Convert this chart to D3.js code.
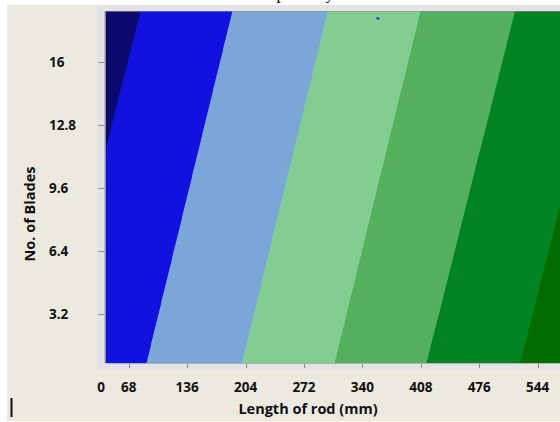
<!DOCTYPE html>
<html>
<head>
<meta charset="utf-8">
<script src="https://cdn.jsdelivr.net/npm/d3@7"></script>
<style>
  html, body { margin: 0; padding: 0; background: #ffffff; }
  svg { display: block; }
</style>
</head>
<body>
<svg id="chart" width="560" height="422"></svg>
<script>
// ---- data ----
const titleText = "Contour plot of yield";
const xTitle = "Length of rod (mm)";
const yTitle = "No. of Blades";
const xTickValues = [68, 136, 204, 272, 340, 408, 476, 544];
const xFirstLabel = "0";
const yTickValues = [16, 12.8, 9.6, 6.4, 3.2];
const xDomain = [41, 570];
const yDomain = [0.7, 18.6];
// contour boundaries: length (mm) where each level line meets top / bottom of the plot
const boundaryTop    = [82, 189, 300, 408, 518, 628];
const boundaryBottom = [-21, 89, 200, 308, 415, 524];
const bandColors = ["#0c0a6e", "#1111e0", "#7ba6d8", "#82ce91", "#55b05e", "#008321", "#006b00"];
const markerPoint = [358, 18.22];

// ---- layout ----
const svg = d3.select("#chart");
const plot = {left: 105.5, right: 560, top: 11, bottom: 363};

const x = d3.scaleLinear().domain(xDomain).range([plot.left, plot.right]);
const y = d3.scaleLinear().domain(yDomain).range([plot.bottom, plot.top]);

// backgrounds
svg.append("rect").attr("x", 7).attr("y", 5).attr("width", 553).attr("height", 416).attr("fill", "#ece9df");
svg.append("rect").attr("x", 97).attr("y", 5).attr("width", 463).attr("height", 365).attr("fill", "#e3e3e3");

// title (cut off at the top edge, only descenders visible, as in the reference)
svg.append("text")
  .attr("x", 216.5).attr("y", -0.8)
  .attr("font-family", "'Liberation Serif', 'Times New Roman', serif")
  .attr("font-size", 17)
  .attr("fill", "#000")
  .text(titleText);

// clip
svg.append("clipPath").attr("id", "clip")
  .append("rect").attr("x", plot.left).attr("y", plot.top)
  .attr("width", plot.right - plot.left).attr("height", plot.bottom - plot.top);

const g = svg.append("g").attr("clip-path", "url(#clip)");

const yTop = yDomain[1], yBot = yDomain[0];
const farLeft = xDomain[0] - 200, farRight = xDomain[1] + 200;
const line = d3.line().x(d => x(d[0])).y(d => y(d[1]));

const bands = bandColors.map((c, i) => {
  const lt = i === 0 ? farLeft : boundaryTop[i - 1];
  const lb = i === 0 ? farLeft : boundaryBottom[i - 1];
  const rt = i === bandColors.length - 1 ? farRight : boundaryTop[i];
  const rb = i === bandColors.length - 1 ? farRight : boundaryBottom[i];
  return {color: c, pts: [[lt, yTop], [rt, yTop], [rb, yBot], [lb, yBot]]};
});

g.selectAll("path.band").data(bands).join("path")
  .attr("class", "band")
  .attr("d", d => line(d.pts) + "Z")
  .attr("fill", d => d.color)
  .attr("stroke", d => d.color)
  .attr("stroke-width", 0.5)
  .attr("shape-rendering", "crispEdges");

// marker point
g.append("rect")
  .attr("x", x(markerPoint[0]) - 1.5).attr("y", y(markerPoint[1]) - 1)
  .attr("width", 3).attr("height", 2)
  .attr("fill", "#2a2ae0");

// plot frame lines
svg.append("line").attr("x1", plot.left).attr("x2", plot.right).attr("y1", plot.top + 0.5).attr("y2", plot.top + 0.5)
  .attr("stroke", "#8a8a9a").attr("stroke-opacity", 0.6);
svg.append("line").attr("x1", plot.left - 0.5).attr("x2", plot.left - 0.5).attr("y1", plot.top).attr("y2", plot.bottom)
  .attr("stroke", "#9a9a9a");
svg.append("line").attr("x1", plot.left).attr("x2", plot.right).attr("y1", plot.bottom + 0.5).attr("y2", plot.bottom + 0.5)
  .attr("stroke", "#b0b0b0");

// ticks
svg.selectAll("line.xt").data(xTickValues).join("line")
  .attr("class", "xt")
  .attr("x1", d => Math.round(x(d)) + 0.5).attr("x2", d => Math.round(x(d)) + 0.5)
  .attr("y1", plot.bottom + 1).attr("y2", plot.bottom + 5)
  .attr("stroke", "#888");
svg.selectAll("line.yt").data(yTickValues).join("line")
  .attr("class", "yt")
  .attr("x1", plot.left - 7).attr("x2", plot.left - 1)
  .attr("y1", d => Math.round(y(d)) + 0.5).attr("y2", d => Math.round(y(d)) + 0.5)
  .attr("stroke", "#888");

const fontFam = "'Open Sans', 'Noto Sans', sans-serif";

// x tick labels
svg.selectAll("text.xl").data(xTickValues).join("text")
  .attr("class", "xl")
  .attr("x", d => x(d)).attr("y", 392)
  .attr("text-anchor", "middle")
  .attr("font-family", fontFam).attr("font-weight", 700).attr("font-size", 13.5)
  .attr("fill", "#111")
  .text(d => d);
svg.append("text")
  .attr("x", x(xDomain[0]) - 4.5).attr("y", 392)
  .attr("text-anchor", "middle")
  .attr("font-family", fontFam).attr("font-weight", 700).attr("font-size", 13.5)
  .attr("fill", "#111")
  .text(xFirstLabel);

// y tick labels
svg.selectAll("text.yl").data(yTickValues).join("text")
  .attr("class", "yl")
  .attr("x", 49).attr("y", d => y(d))
  .attr("dy", "0.36em")
  .attr("font-family", fontFam).attr("font-weight", 700).attr("font-size", 13.5)
  .attr("fill", "#111")
  .text(d => d);

// axis titles
svg.append("text")
  .attr("x", 308).attr("y", 414)
  .attr("text-anchor", "middle")
  .attr("font-family", fontFam).attr("font-weight", 700).attr("font-size", 14.5)
  .attr("fill", "#111")
  .text(xTitle);
svg.append("text")
  .attr("transform", "translate(35,214) rotate(-90)")
  .attr("text-anchor", "middle")
  .attr("font-family", fontFam).attr("font-weight", 700).attr("font-size", 14.5)
  .attr("fill", "#111")
  .text(yTitle);

// cursor bar at bottom left
svg.append("rect").attr("x", 10.5).attr("y", 398).attr("width", 2).attr("height", 19).attr("fill", "#111");
</script>
</body>
</html>
